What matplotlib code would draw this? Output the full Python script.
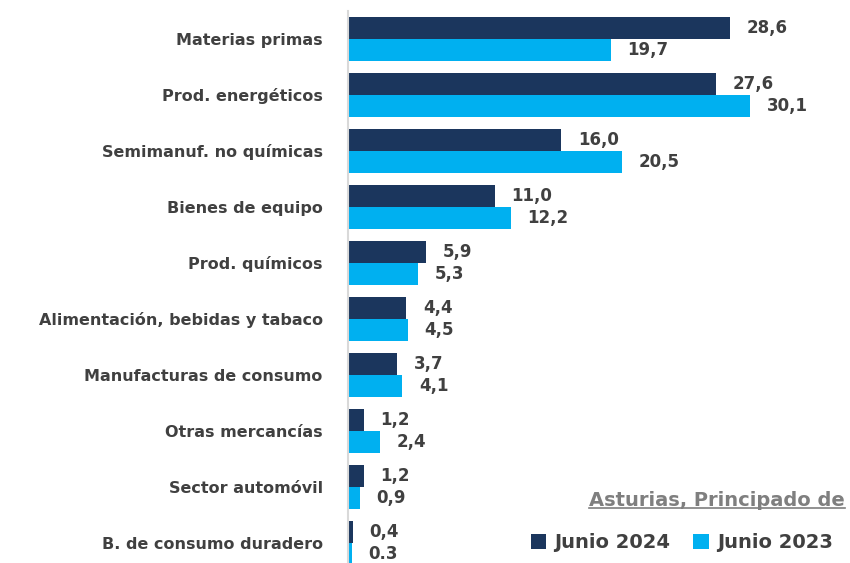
import matplotlib.pyplot as plt
import numpy as np

categories = ['Materias primas', 'Prod. energéticos', 'Semimanuf. no químicas',
              'Bienes de equipo', 'Prod. químicos', 'Alimentación, bebidas y tabaco',
              'Manufacturas de consumo', 'Otras mercancías', 'Sector automóvil',
              'B. de consumo duradero']
junio_2024 = [28.6, 27.6, 16.0, 11.0, 5.9, 4.4, 3.7, 1.2, 1.2, 0.4]
junio_2023 = [19.7, 30.1, 20.5, 12.2, 5.3, 4.5, 4.1, 2.4, 0.9, 0.3]
labels_2024 = ['28,6', '27,6', '16,0', '11,0', '5,9', '4,4', '3,7', '1,2', '1,2', '0,4']
labels_2023 = ['19,7', '30,1', '20,5', '12,2', '5,3', '4,5', '4,1', '2,4', '0,9', '0.3']

dark = '#1B365D'
light = '#00B0F0'
txt = '#404040'
plt.rcParams['font.family'] = ['DejaVu Sans']

fig = plt.figure(figsize=(8.5, 5.63), dpi=100)
ax = fig.add_axes([0.409, -0.014, 0.591, 0.995])

y = np.arange(len(categories))
h = 0.39
ax.barh(y - h / 2, junio_2024, height=h, color=dark, label='Junio 2024')
ax.barh(y + h / 2, junio_2023, height=h, color=light, label='Junio 2023')

ax.set_ylim(len(categories) - 0.5, -0.5)
ax.set_xlim(0, 37.6)

for i in range(len(categories)):
    ax.annotate(labels_2024[i], (junio_2024[i], y[i] - h / 2), xytext=(12, 0),
                textcoords='offset points', ha='left', va='center',
                fontsize=12, fontweight='bold', color=txt)
    ax.annotate(labels_2023[i], (junio_2023[i], y[i] + h / 2), xytext=(12, 0),
                textcoords='offset points', ha='left', va='center',
                fontsize=12, fontweight='bold', color=txt)

ax.set_yticks(y)
ax.set_yticklabels(categories, fontsize=11.5, fontweight='bold', color=txt)
ax.tick_params(axis='y', length=0, pad=18)
ax.set_xticks([])
for s in ['top', 'right', 'bottom']:
    ax.spines[s].set_visible(False)
ax.spines['left'].set_color('#D9D9D9')
ax.spines['left'].set_linewidth(1.5)

# title with underline
t = fig.text(0.994, 1 - 500 / 563, 'Asturias, Principado de', ha='right', va='center',
             fontsize=14, fontweight='bold', color='#7F7F7F')
fig.canvas.draw()
bb = t.get_window_extent().transformed(fig.transFigure.inverted())
fig.add_artist(plt.Line2D([bb.x0, bb.x1], [bb.y0 + 0.002, bb.y0 + 0.002],
                          transform=fig.transFigure, color='#7F7F7F', lw=1.2))

leg = fig.legend(loc='center right', bbox_to_anchor=(1.0, 1 - 543 / 563), ncol=2,
                 frameon=False, fontsize=14, handlelength=0.8, handleheight=0.8,
                 handletextpad=0.4, columnspacing=1.2)
for tx in leg.get_texts():
    tx.set_fontweight('bold')
    tx.set_color(txt)

fig.savefig('out.png', dpi=100)
